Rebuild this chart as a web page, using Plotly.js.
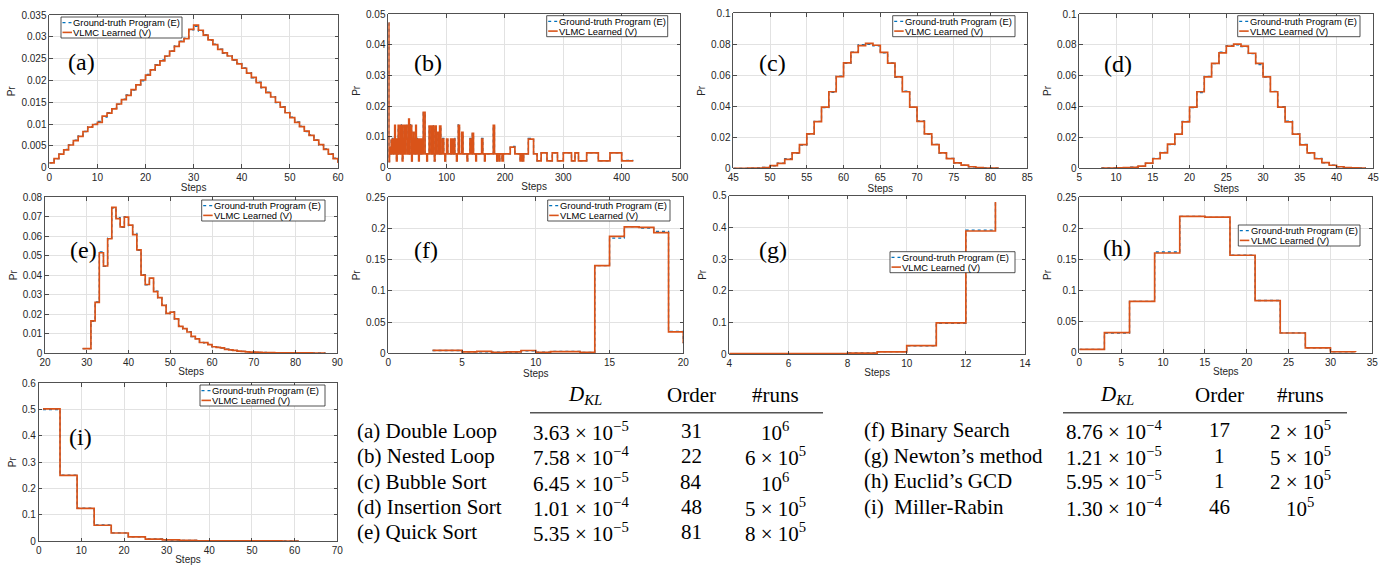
<!DOCTYPE html>
<html><head><meta charset="utf-8">
<script src="https://cdn.plot.ly/plotly-3.0.1.min.js"></script>
<style>html,body{margin:0;padding:0;background:#fff}#chart{width:1390px;height:565px}</style>
</head><body><div id="chart"></div>
<script>
// ---------------- data ----------------
const seriesNames = ['Ground-truth Program (E)', 'VLMC Learned (V)'];

// (a) Double Loop
const aSteps = [0,1,2,3,4,5,6,7,8,9,10,11,12,13,14,15,16,17,18,19,20,21,22,23,24,25,26,27,28,29,30,31,32,33,34,35,36,37,38,39,40,41,42,43,44,45,46,47,48,49,50,51,52,53,54,55,56,57,58,59,60];
const aV = [0.0011,0.0021,0.0031,0.0041,0.0052,0.0062,0.0072,0.0083,0.0093,0.0099,0.0104,0.0118,0.0125,0.0135,0.0146,0.0156,0.0166,0.0179,0.0190,0.0201,0.0212,0.0224,0.0235,0.0245,0.0256,0.0267,0.0278,0.0289,0.0296,0.0317,0.0327,0.0315,0.0304,0.0293,0.0282,0.0271,0.0263,0.0256,0.0247,0.0238,0.0228,0.0217,0.0207,0.0195,0.0184,0.0172,0.0162,0.0150,0.0139,0.0126,0.0115,0.0104,0.0094,0.0084,0.0074,0.0063,0.0053,0.0042,0.0031,0.0021,0.0011];
const aE = [0.0011,0.0021,0.0031,0.0042,0.0052,0.0063,0.0073,0.0083,0.0094,0.0100,0.0106,0.0116,0.0126,0.0136,0.0145,0.0157,0.0167,0.0178,0.0190,0.0199,0.0214,0.0223,0.0236,0.0247,0.0255,0.0268,0.0279,0.0290,0.0297,0.0316,0.0324,0.0313,0.0305,0.0292,0.0283,0.0272,0.0262,0.0257,0.0246,0.0239,0.0229,0.0218,0.0206,0.0196,0.0183,0.0173,0.0163,0.0149,0.0140,0.0127,0.0116,0.0105,0.0095,0.0083,0.0075,0.0064,0.0052,0.0043,0.0032,0.0022,0.0011];

// (b) Nested Loop
const bSteps = [0,1,2,4,5,6,7,8,9,10,11,12,13,14,15,16,17,18,19,20,21,22,23,24,25,26,27,28,29,30,31,32,33,34,35,36,37,38,39,40,41,42,43,44,45,46,47,48,49,50,51,52,53,54,55,56,57,58,60,63,66,67,70,73,75,77,79,80,82,85,86,88,90,93,95,97,98,100,102,107,108,110,112,113,114,117,118,120,122,126,128,135,136,140,142,144,146,150,151,160,162,165,166,180,182,186,187,190,191,195,197,209,217,226,228,230,232,240,249,255,262,272,281,290,300,314,320,326,340,360,380,400,420];
const bV = [0.047,0.0020,0.0065,0.0045,0.0090,0.0045,0.0093,0.0045,0.0093,0.0045,0.0138,0.0045,0.0093,0.0022,0.0093,0.0045,0.0138,0.0045,0.0093,0.0045,0.0138,0.0045,0.0138,0.0022,0.0093,0.0045,0.0138,0.0045,0.0138,0.0093,0.0138,0.0045,0.0093,0.0045,0.0158,0.0045,0.0138,0.0093,0.0138,0.0022,0.0093,0.0045,0.0115,0.0045,0.0093,0.0045,0.0138,0.0045,0.0093,0.0045,0.0093,0.0022,0.0093,0.0045,0.0093,0.0045,0.0093,0.0045,0.0180,0.0045,0.0022,0.0045,0.0135,0.0045,0.0135,0.0045,0.0022,0.0135,0.0045,0.0115,0.0045,0.0135,0.0045,0.0093,0.0045,0.0022,0.0045,0.0093,0.0045,0.0093,0.0045,0.0093,0.0045,0.0093,0.0045,0.0022,0.0045,0.0138,0.0045,0.0115,0.0045,0.0022,0.0045,0.0093,0.0045,0.0112,0.0045,0.0022,0.0045,0.0093,0.0045,0.0022,0.0045,0.0138,0.0045,0.0022,0.0045,0.0022,0.0045,0.0022,0.0045,0.0067,0.0045,0.0022,0.0045,0.0022,0.0045,0.0093,0.0045,0.0022,0.0048,0.0022,0.0048,0.0022,0.0048,0.0022,0.0048,0.0022,0.0048,0.0022,0.0048,0.0022,0.0022];
const bE = [0.047,0.0020,0.0068,0.0045,0.0088,0.0045,0.0095,0.0045,0.0090,0.0045,0.0140,0.0045,0.0090,0.0022,0.0095,0.0045,0.0135,0.0045,0.0095,0.0045,0.0140,0.0045,0.0136,0.0022,0.0090,0.0045,0.0140,0.0045,0.0136,0.0095,0.0140,0.0045,0.0090,0.0045,0.0155,0.0045,0.0140,0.0090,0.0136,0.0022,0.0095,0.0045,0.0112,0.0045,0.0095,0.0045,0.0136,0.0045,0.0095,0.0045,0.0090,0.0022,0.0095,0.0045,0.0090,0.0045,0.0095,0.0045,0.0178,0.0045,0.0022,0.0045,0.0133,0.0045,0.0137,0.0045,0.0022,0.0133,0.0045,0.0113,0.0045,0.0133,0.0045,0.0095,0.0045,0.0022,0.0045,0.0090,0.0045,0.0095,0.0045,0.0090,0.0045,0.0095,0.0045,0.0022,0.0045,0.0140,0.0045,0.0113,0.0045,0.0022,0.0045,0.0095,0.0045,0.0110,0.0045,0.0022,0.0045,0.0095,0.0045,0.0022,0.0045,0.0136,0.0045,0.0022,0.0045,0.0022,0.0045,0.0022,0.0045,0.0069,0.0045,0.0022,0.0045,0.0022,0.0045,0.0095,0.0045,0.0022,0.0048,0.0022,0.0048,0.0022,0.0048,0.0022,0.0048,0.0022,0.0048,0.0022,0.0048,0.0024,0.0024];

// (c) Bubble Sort
const cSteps = [45,46,47,48,49,50,51,52,53,54,55,56,57,58,59,60,61,62,63,64,65,66,67,68,69,70,71,72,73,74,75,76,77,78,79,80,81];
const cV = [0,0,0.0001,0.0002,0.0005,0.0017,0.0032,0.0058,0.0099,0.0153,0.0222,0.0301,0.0395,0.0494,0.0591,0.0680,0.0748,0.0792,0.0806,0.0794,0.0748,0.0678,0.0590,0.0494,0.0395,0.0303,0.0222,0.0153,0.0100,0.0062,0.0035,0.0020,0.0010,0.0005,0.0002,0.0001,0];
const cE = [0,0,0.0001,0.0002,0.0006,0.0016,0.0033,0.0062,0.0097,0.0150,0.0220,0.0303,0.0392,0.0490,0.0594,0.0677,0.0750,0.0797,0.0800,0.0790,0.0745,0.0680,0.0587,0.0497,0.0393,0.0306,0.0219,0.0155,0.0098,0.0064,0.0034,0.0021,0.0010,0.0005,0.0002,0.0001,0];

// (d) Insertion Sort
const dSteps = [8,9,10,11,12,13,14,15,16,17,18,19,20,21,22,23,24,25,26,27,28,29,30,31,32,33,34,35,36,37,38,39,40,41,42,43,44];
const dV = [0,0,0.0001,0.0002,0.0005,0.0012,0.0032,0.0060,0.0098,0.0155,0.0220,0.0300,0.0395,0.0495,0.0592,0.0680,0.0748,0.0792,0.0805,0.0792,0.0745,0.0680,0.0592,0.0495,0.0395,0.0300,0.0220,0.0150,0.0098,0.0060,0.0035,0.0018,0.0008,0.0003,0.0001,0,0];
const dE = [0,0,0.0001,0.0002,0.0006,0.0011,0.0030,0.0062,0.0101,0.0152,0.0218,0.0303,0.0392,0.0490,0.0595,0.0678,0.0752,0.0795,0.0800,0.0788,0.0743,0.0672,0.0590,0.0498,0.0398,0.0305,0.0222,0.0153,0.0097,0.0062,0.0034,0.0019,0.0008,0.0003,0.0001,0,0];

// (e) Quick Sort
const eSteps = [29,30,31,32,33,34,35,36,37,38,39,40,41,42,43,44,45,46,47,48,49,50,51,52,53,54,55,56,57,58,59,60,61,62,63,64,65,66,67,68,69,70,71,72,73,74,75,76,77,78,79,80,81,82,83,84,85,86,87];
const eV = [0.0022,0.0022,0.0165,0.0260,0.0515,0.0447,0.0587,0.0748,0.0690,0.0648,0.0698,0.0657,0.0608,0.0530,0.0400,0.0352,0.0385,0.0315,0.0285,0.0245,0.0204,0.0210,0.0175,0.0137,0.0125,0.0108,0.0085,0.0073,0.0054,0.0053,0.0043,0.0032,0.0029,0.0026,0.0019,0.0016,0.0013,0.0010,0.0008,0.0006,0.0005,0.0004,0.0003,0.00025,0.0002,0.00015,0.0001,0.0001,0.00008,0.00006,0.00005,0.00004,0.00003,0.00002,0.00002,0.00001,0.00001,0.00001,0];
const eE = [0.0022,0.0022,0.0163,0.0262,0.0520,0.0445,0.0590,0.0745,0.0695,0.0646,0.0700,0.0655,0.0615,0.0528,0.0402,0.0350,0.0383,0.0318,0.0283,0.0247,0.0202,0.0212,0.0173,0.0139,0.0123,0.0110,0.0084,0.0074,0.0055,0.0052,0.0044,0.0031,0.0030,0.0025,0.0020,0.0015,0.0013,0.0010,0.0008,0.0006,0.0005,0.0004,0.0003,0.00025,0.0002,0.00015,0.0001,0.0001,0.00008,0.00006,0.00005,0.00004,0.00003,0.00002,0.00002,0.00001,0.00001,0.00001,0];

// (f) Binary Search
const fSteps = [3,4,5,6,7,8,9,10,11,12,13,14,15,16,17,18,19,20];
const fV = [0.0048,0.0048,0.0022,0.0030,0.0016,0.0022,0.0045,0.0016,0.0027,0.0027,0.0016,0.1405,0.1875,0.2025,0.2018,0.1935,0.0342,0.0160];
const fE = [0.0045,0.0045,0.0025,0.0022,0.0018,0.0018,0.0040,0.0018,0.0030,0.0030,0.0015,0.1405,0.1845,0.2030,0.2005,0.1955,0.0350,0.0160];

// (g) Newton's method
const gSteps = [4,5,6,7,8,9,10,11,12,13];
const gV = [0.0010,0.0010,0.0010,0.0010,0.0030,0.0070,0.0265,0.0980,0.3885,0.4800];
const gE = [0.0010,0.0010,0.0010,0.0010,0.0035,0.0072,0.0258,0.0965,0.3915,0.4800];

// (h) Euclid's GCD
const hSteps = [0,3,6,9,12,15,18,21,24,27,30,33];
const hV = [0.0055,0.0322,0.0826,0.1604,0.2194,0.2180,0.1568,0.0837,0.0317,0.0078,0.0013,0.0010];
const hE = [0.0052,0.0315,0.0826,0.1620,0.2194,0.2178,0.1570,0.0840,0.0320,0.0080,0.0014,0.0010];

// (i) Miller-Rabin
const iSteps = [1,5,9,13,17,21,25,29,33,37,41,45,49,53,57,61];
const iV = [0.5025,0.2500,0.1244,0.0600,0.0305,0.0160,0.0075,0.0040,0.0020,0.0010,0.0005,0.0003,0.0001,0.0001,0,0];
const iE = [0.5000,0.2510,0.1250,0.0610,0.0310,0.0155,0.0078,0.0038,0.0019,0.0010,0.0005,0.0002,0.0001,0.0001,0,0];

// tables
const tableHeaders = ['<i>D</i><sub><i>KL</i></sub>', 'Order', '#runs'];
const leftNames  = ['(a) Double Loop', '(b) Nested Loop', '(c) Bubble Sort', '(d) Insertion Sort', '(e) Quick Sort'];
const leftDklMant = ['3.63', '7.58', '6.45', '1.01', '5.35'];
const leftDklExp  = [-5, -4, -5, -4, -5];
const leftOrder   = [31, 22, 84, 48, 81];
const leftRunsMult = ['', '6', '', '5', '8'];
const leftRunsExp  = [6, 5, 6, 5, 5];
const rightNames  = ['(f) Binary Search', '(g) Newton\u2019s method', '(h) Euclid\u2019s GCD', '(i)\u00a0 Miller-Rabin'];
const rightDklMant = ['8.76', '1.21', '5.95', '1.30'];
const rightDklExp  = [-4, -5, -5, -4];
const rightOrder   = [17, 1, 1, 46];
const rightRunsMult = ['2', '5', '2', ''];
const rightRunsExp  = [5, 5, 5, 5];

// ---------------- layout ----------------
const W = 1390, H = 565;
const px = v => v / W;
const py = v => 1 - v / H;
const C_E = '#0072BD', C_V = '#D95319';
const sans = 'Liberation Sans, Arial, Helvetica, sans-serif';
const serif = 'Liberation Serif, Times New Roman, serif';

const panels = [
  {lab:'(a)', x:aSteps, E:aE, V:aV, box:[49.3,15,338,167.7],   xr:[0,60],  xd:10,  yr:[0,0.035], yd:0.005, leg:[61,17,121],     lp:[81,62]},
  {lab:'(b)', x:bSteps, E:bE, V:bV, box:[388.3,14,680,167.7],  xr:[0,500], xd:100, yr:[0,0.05],  yd:0.01,  leg:[546.7,15.7,121], lp:[428,63]},
  {lab:'(c)', x:cSteps, E:cE, V:cV, box:[733.3,13.3,1027.3,168.3], xr:[45,85], xd:5, yr:[0,0.1], yd:0.02, leg:[892.7,15.7,122.3], lp:[772,63]},
  {lab:'(d)', x:dSteps, E:dE, V:dV, box:[1079.3,14,1373.3,168], xr:[5,45],  xd:5,   yr:[0,0.1],   yd:0.02,  leg:[1237.7,15.7,122.3], lp:[1118,64]},
  {lab:'(e)', x:eSteps, E:eE, V:eV, box:[45,197.3,337.3,353],   xr:[20,90], xd:10,  yr:[0,0.08],  yd:0.01,  leg:[201.7,200,123.3], lp:[83,250]},
  {lab:'(f)', x:fSteps, E:fE, V:fV, box:[388.3,197.3,683.3,353.3], xr:[0,20], xd:5, yr:[0,0.25], yd:0.05, leg:[547.7,200,122.3], lp:[426,250]},
  {lab:'(g)', x:gSteps, E:gE, V:gV, box:[729.3,195.7,1025,354], xr:[4,14],  xd:2,   yr:[0,0.5],   yd:0.1,   leg:[890,251.7,125],  lp:[773,250]},
  {lab:'(h)', x:hSteps, E:hE, V:hV, box:[1079.3,197.3,1372.3,352.7], xr:[0,35], xd:5, yr:[0,0.25], yd:0.05, leg:[1238.3,225,121.7], lp:[1117,248]},
  {lab:'(i)', x:iSteps, E:iE, V:iV, box:[38.7,383.3,337.3,541], xr:[0,70],  xd:10,  yr:[0,0.6],   yd:0.1,   leg:[200,385,125],    lp:[80,437]}
];

const traces = [];
const layout = {
  width: W, height: H,
  margin: {l:0, r:0, t:0, b:0},
  paper_bgcolor: '#ffffff', plot_bgcolor: '#ffffff',
  showlegend: false,
  shapes: [], annotations: []
};

function axisCommon(range, dtick) {
  return {
    range: range, dtick: dtick, tick0: range[0], autorange: false,
    showline: true, mirror: 'ticks', linecolor: '#262626', linewidth: 0.8,
    ticks: 'inside', ticklen: 3.5, tickwidth: 0.8, tickcolor: '#262626',
    showgrid: true, gridcolor: '#e2e2e2', gridwidth: 1,
    zeroline: false, automargin: false, fixedrange: true,
    tickfont: {family: sans, size: 10, color: '#262626'}
  };
}

panels.forEach((p, k) => {
  const n = k === 0 ? '' : String(k + 1);
  const xa = 'x' + n, ya = 'y' + n;
  traces.push({type:'scatter', mode:'lines', x:p.x, y:p.E, name:seriesNames[0], xaxis:xa, yaxis:ya,
    line:{shape:'hv', color:C_E, width:1.3, dash:'dot'}, hoverinfo:'skip'});
  traces.push({type:'scatter', mode:'lines', x:p.x, y:p.V, name:seriesNames[1], xaxis:xa, yaxis:ya,
    line:{shape:'hv', color:C_V, width:1.7}, hoverinfo:'skip'});

  const xax = axisCommon(p.xr, p.xd);
  xax.domain = [px(p.box[0]), px(p.box[2])];
  xax.anchor = ya;
  xax.title = {text:'Steps', font:{family:sans, size:10, color:'#262626'}, standoff:1};
  const yax = axisCommon(p.yr, p.yd);
  yax.domain = [py(p.box[3]), py(p.box[1])];
  yax.anchor = xa;
  yax.title = {text:'Pr', font:{family:sans, size:10, color:'#262626'}, standoff:3};
  layout['xaxis' + n] = xax;
  layout['yaxis' + n] = yax;

  // panel label
  layout.annotations.push({xref:'paper', yref:'paper', x:px(p.lp[0]), y:py(p.lp[1]), xanchor:'center', yanchor:'middle',
    text:p.lab, showarrow:false, font:{family:serif, size:24, color:'#000'}});

  // legend box (drawn manually to match compact MATLAB legend)
  const [lx, ly, lw] = p.leg, lh = 21;
  layout.shapes.push({type:'rect', xref:'paper', yref:'paper', x0:px(lx), x1:px(lx+lw), y0:py(ly+lh), y1:py(ly),
    line:{color:'#262626', width:0.8}, fillcolor:'#ffffff', layer:'above'});
  [[C_E, 1.3, 'dot', 5.6], [C_V, 1.6, 'solid', 15.4]].forEach((s, j) => {
    layout.shapes.push({type:'line', xref:'paper', yref:'paper', x0:px(lx+1.5), x1:px(lx+11), y0:py(ly+s[3]), y1:py(ly+s[3]),
      line:{color:s[0], width:s[1], dash:s[2]}, layer:'above'});
    layout.annotations.push({xref:'paper', yref:'paper', x:px(lx+11.2), y:py(ly+s[3]), xanchor:'left', yanchor:'middle',
      text:seriesNames[j], showarrow:false, borderpad:0, font:{family:sans, size:9.4, color:'#000'}});
  });
});

// ---------------- tables ----------------
function addTable(cfg) {
  const f = {family:serif, size:21, color:'#000'};
  const hdrX = [cfg.cDkl, cfg.cOrd, cfg.cRuns];
  tableHeaders.forEach((h, j) => {
    layout.annotations.push({xref:'paper', yref:'paper', x:px(hdrX[j]), y:py(cfg.hy), xanchor:'center', yanchor:'middle',
      text:h, showarrow:false, font:f});
  });
  layout.shapes.push({type:'line', xref:'paper', yref:'paper', x0:px(cfg.l0), x1:px(cfg.l1), y0:py(cfg.ly), y1:py(cfg.ly),
    line:{color:'#555', width:1.5}});
  cfg.names.forEach((nm, r) => {
    const y = py(cfg.rows[r]);
    layout.annotations.push({xref:'paper', yref:'paper', x:px(cfg.xName), y:y, xanchor:'left', yanchor:'middle',
      text:nm, showarrow:false, font:f});
    layout.annotations.push({xref:'paper', yref:'paper', x:px(cfg.xDkl), y:y, xanchor:'left', yanchor:'middle',
      text:cfg.mant[r] + ' \u00d7 10<sup>\u2212' + Math.abs(cfg.exp[r]) + '</sup>', showarrow:false, font:f});
    layout.annotations.push({xref:'paper', yref:'paper', x:px(cfg.cOrd), y:y, xanchor:'center', yanchor:'middle',
      text:String(cfg.order[r]), showarrow:false, font:f});
    const runs = (cfg.mult[r] ? cfg.mult[r] + ' \u00d7 ' : '') + '10<sup>' + cfg.rexp[r] + '</sup>';
    layout.annotations.push({xref:'paper', yref:'paper', x:px(cfg.cRuns), y:y, xanchor:'center', yanchor:'middle',
      text:runs, showarrow:false, font:f});
  });
}
addTable({names:leftNames, mant:leftDklMant, exp:leftDklExp, order:leftOrder, mult:leftRunsMult, rexp:leftRunsExp,
  xName:355, xDkl:531, cDkl:585, cOrd:691, cRuns:775, hy:395, l0:530, l1:823, ly:412.7, rows:[431,456,482,507,532]});
addTable({names:rightNames, mant:rightDklMant, exp:rightDklExp, order:rightOrder, mult:rightRunsMult, rexp:rightRunsExp,
  xName:862, xDkl:1064, cDkl:1117, cOrd:1219, cRuns:1300, hy:395, l0:1063, l1:1347, ly:412.7, rows:[430,456,481,507]});

Plotly.newPlot('chart', traces, layout, {staticPlot:true, displayModeBar:false});
</script>
</body></html>
